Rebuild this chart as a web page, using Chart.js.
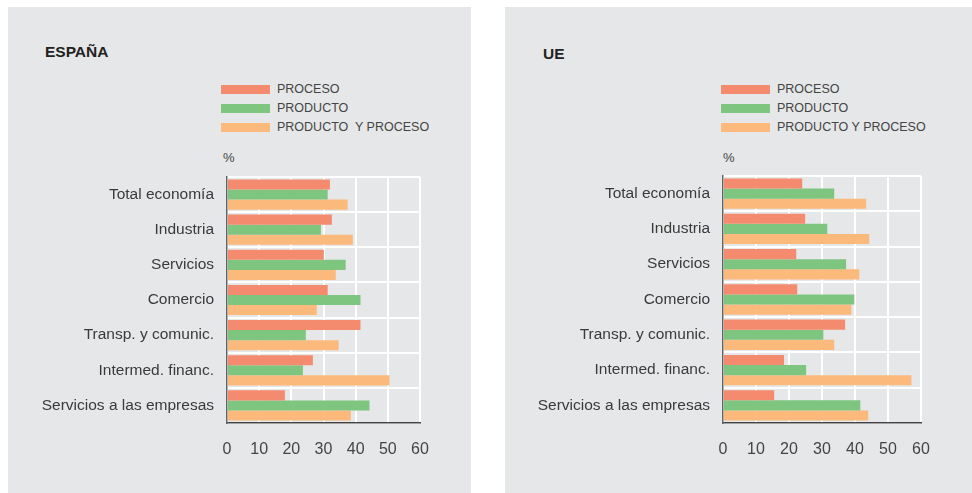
<!DOCTYPE html>
<html>
<head>
<meta charset="utf-8">
<script src="https://cdn.jsdelivr.net/npm/chart.js@4/dist/chart.umd.min.js"></script>
<style>
  html, body { margin:0; padding:0; background:#ffffff; }
  body { width:972px; height:493px; position:relative; overflow:hidden;
         font-family:"Liberation Sans", Arial, sans-serif; color:#3a3a3a; }
  .panel { position:absolute; background:#e6e7e8; }
  .title { position:absolute; font-weight:bold; font-size:15.5px; color:#222; line-height:18px; }
  .leg { position:absolute; font-size:12.5px; line-height:14px; color:#444; white-space:pre; }
  .legbox { position:absolute; width:49px; height:9px; }
  .pct { position:absolute; font-size:13px; color:#444; line-height:14px; }
  canvas { position:absolute; }
</style>
</head>
<body>
<div class="panel" style="left:8px;top:7px;width:463px;height:486px;"></div>
<div class="panel" style="left:505px;top:7px;width:467px;height:486px;"></div>
<div id="root"></div>

<script>
// ---- data ----
const categories = ["Total economía", "Industria", "Servicios", "Comercio",
                    "Transp. y comunic.", "Intermed. financ.", "Servicios a las empresas"];
const seriesNames = ["PROCESO", "PRODUCTO", "PRODUCTO Y PROCESO"];
const legendLabelsEspana = ["PROCESO", "PRODUCTO", "PRODUCTO  Y PROCESO"];
const legendLabelsUE = ["PROCESO", "PRODUCTO", "PRODUCTO Y PROCESO"];

const espanaProceso   = [32.0, 32.6, 30.1, 31.3, 41.5, 26.7, 18.0];
const espanaProducto  = [31.3, 29.2, 36.9, 41.5, 24.5, 23.6, 44.3];
const espanaProdProc  = [37.5, 39.1, 33.8, 27.9, 34.7, 50.5, 38.5];

const ueProceso   = [24.0, 24.9, 22.2, 22.5, 37.0, 18.5, 15.5];
const ueProducto  = [33.7, 31.6, 37.3, 39.8, 30.4, 25.2, 41.6];
const ueProdProc  = [43.4, 44.3, 41.3, 38.9, 33.7, 57.1, 44.0];

const xTicks = [0, 10, 20, 30, 40, 50, 60];
const colors = ["#f48b6f", "#7ec580", "#fbb97b"];

const FONT = '"Liberation Sans", Arial, sans-serif';
const root = document.getElementById('root');

function addDiv(cls, css, text) {
  const d = document.createElement('div');
  d.className = cls;
  d.style.cssText = css;
  if (text !== undefined) d.textContent = text;
  root.appendChild(d);
  return d;
}

function makePanel(cfg) {
  addDiv('title', `left:${cfg.titleX}px;top:${cfg.titleY}px;`, cfg.title);
  const rowTops = [85, 104, 123];
  cfg.legendLabels.forEach((lab, i) => {
    addDiv('legbox', `left:${cfg.legX}px;top:${rowTops[i]}px;background:${colors[i]};`);
    addDiv('leg', `left:${cfg.legX + 56}px;top:${rowTops[i] - 3}px;`, lab);
  });
  addDiv('pct', `left:${cfg.legX + 2}px;top:${151}px;`, '%');

  const c = document.createElement('canvas');
  c.width = cfg.w; c.height = cfg.h;
  c.style.left = cfg.left + 'px'; c.style.top = cfg.top + 'px';
  c.style.width = cfg.w + 'px'; c.style.height = cfg.h + 'px';
  root.appendChild(c);

  new Chart(c.getContext('2d'), {
    type: 'bar',
    data: {
      labels: categories,
      datasets: cfg.series.map((vals, i) => ({
        label: seriesNames[i],
        data: vals,
        backgroundColor: colors[i],
        borderWidth: 0,
        barPercentage: 1.0,
        categoryPercentage: 0.86
      }))
    },
    options: {
      indexAxis: 'y',
      responsive: false,
      animation: false,
      devicePixelRatio: 1,
      layout: { padding: { left: 0, right: cfg.padRight, top: cfg.padTop, bottom: 0 } },
      plugins: { legend: { display: false }, tooltip: { enabled: false } },
      scales: {
        x: {
          min: 0, max: 60,
          afterBuildTicks: (s) => { s.ticks = xTicks.map(v => ({ value: v })); },
          afterFit: (s) => { s.height = cfg.xAxisH; s.paddingLeft = 0; s.paddingRight = 0; },
          grid: { color: '#ffffff', lineWidth: 2, drawTicks: false },
          border: { display: true, color: '#444444', width: 1.5 },
          ticks: { color: '#444', font: { family: FONT, size: 16 }, padding: 17 }
        },
        y: {
          afterFit: (s) => { s.width = cfg.yAxisW; s.paddingTop = 0; s.paddingBottom = 0; },
          grid: { color: '#ffffff', lineWidth: 2, drawTicks: false, offset: true },
          border: { display: true, color: '#666666', width: 1.5 },
          ticks: { color: '#3a3a3a', font: { family: FONT, size: 15.5 }, padding: 13 }
        }
      }
    }
  });
}

makePanel({
  title: 'ESPAÑA', titleX: 45, titleY: 43,
  legendLabels: legendLabelsEspana, legX: 221,
  left: 8, top: 170, w: 463, h: 300,
  yAxisW: 219, padRight: 51, padTop: 7, xAxisH: 47,
  series: [espanaProceso, espanaProducto, espanaProdProc]
});

makePanel({
  title: 'UE', titleX: 543, titleY: 45,
  legendLabels: legendLabelsUE, legX: 721,
  left: 505, top: 170, w: 467, h: 300,
  yAxisW: 218, padRight: 51, padTop: 6, xAxisH: 47,
  series: [ueProceso, ueProducto, ueProdProc]
});
</script>
</body>
</html>
